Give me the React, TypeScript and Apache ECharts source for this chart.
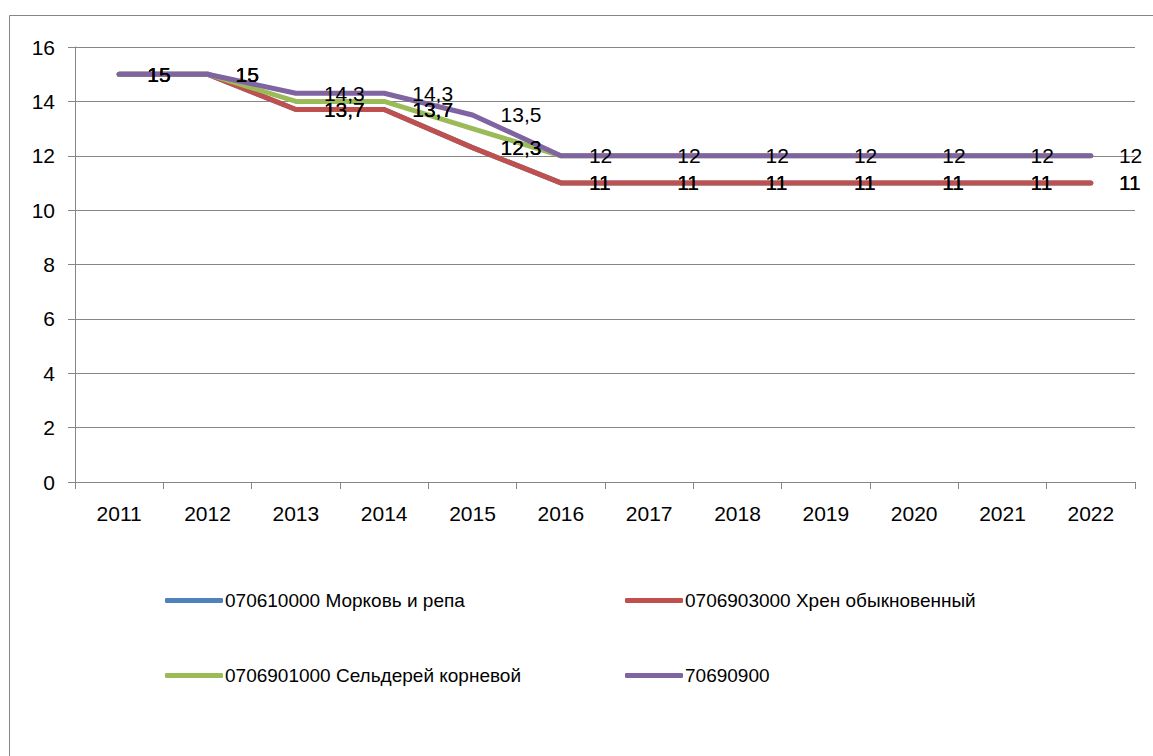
import React, { useEffect, useRef } from "react";
import * as echarts from "echarts";

const years = ["2011", "2012", "2013", "2014", "2015", "2016", "2017", "2018", "2019", "2020", "2021", "2022"];
const seriesNames = [
  "070610000 Морковь и репа",
  "0706903000 Хрен обыкновенный",
  "0706901000 Сельдерей корневой",
  "70690900",
];
const carrot = [15, 15, 13.7, 13.7, 12.3, 11, 11, 11, 11, 11, 11, 11];
const horseradish = [15, 15, 13.7, 13.7, 12.3, 11, 11, 11, 11, 11, 11, 11];
const celery = [15, 15, 14, 14, 13, 12, 12, 12, 12, 12, 12, 12];
const other = [15, 15, 14.3, 14.3, 13.5, 12, 12, 12, 12, 12, 12, 12];
const colors = ["#4F81BD", "#C0504D", "#9BBB59", "#8064A2"];
const showLabels = [true, true, false, true];

const FONT = "Liberation Sans";
const FS = 21;

export default function App() {
  const ref = useRef<HTMLDivElement>(null);
  useEffect(() => {
    if (!ref.current) return;
    const chart = echarts.init(ref.current, null, { renderer: "svg" });
    const dataSets = [carrot, horseradish, celery, other];
    const legendPos = [
      { left: 165, top: 591 },
      { left: 625, top: 591 },
      { left: 165, top: 666 },
      { left: 625, top: 666 },
    ];
    chart.setOption({
      animation: false,
      backgroundColor: "#fff",
      textStyle: { fontFamily: FONT },
      graphic: [
        {
          type: "rect",
          shape: { x: 9.5, y: 15.5, width: 1200, height: 800 },
          style: { fill: "none", stroke: "#868686", lineWidth: 1 },
          silent: true,
        },
      ],
      grid: { left: 75, right: 18, top: 47, bottom: 274, containLabel: false },
      legend: seriesNames.map((n, i) => ({
        data: [n],
        left: legendPos[i].left,
        top: legendPos[i].top,
        itemWidth: 58,
        itemHeight: 5,
        itemGap: 0,
        icon: "roundRect",
        padding: 0,
        itemStyle: { color: colors[i], opacity: 1 },
        textStyle: { fontFamily: FONT, fontSize: 19, color: "#000", padding: [0, 0, 0, -3] },
      })),
      xAxis: {
        type: "category",
        data: years,
        boundaryGap: true,
        axisLine: { lineStyle: { color: "#868686", width: 1 } },
        axisTick: { show: true, length: 7, lineStyle: { color: "#868686" } },
        axisLabel: { fontFamily: FONT, fontSize: FS, color: "#000", margin: 21 },
      },
      yAxis: {
        type: "value",
        min: 0,
        max: 16,
        interval: 2,
        axisLine: { show: true, lineStyle: { color: "#868686", width: 1 } },
        axisTick: { show: true, length: 7, lineStyle: { color: "#868686" } },
        axisLabel: { fontFamily: FONT, fontSize: FS, color: "#000", margin: 20 },
        splitLine: { show: true, lineStyle: { color: "#868686", width: 1 } },
      },
      series: seriesNames.map((n, i) => ({
        name: n,
        type: "line",
        data: dataSets[i],
        symbol: "circle",
        symbolSize: 0.1,
        showSymbol: true,
        lineStyle: { color: colors[i], width: 5, cap: "round", join: "round" },
        itemStyle: { color: colors[i] },
        label: {
          show: showLabels[i],
          position: "right",
          distance: 28,
          offset: [0, 2],
          fontFamily: FONT,
          fontSize: FS,
          color: "#000",
          formatter: (p: any) => String(p.value).replace(".", ","),
        },
        labelLayout: { hideOverlap: false },
      })),
    });
    return () => chart.dispose();
  }, []);
  return (
    <div
      ref={ref}
      style={{ position: "fixed", left: 0, top: 0, width: 1153, height: 756 }}
    />
  );
}
